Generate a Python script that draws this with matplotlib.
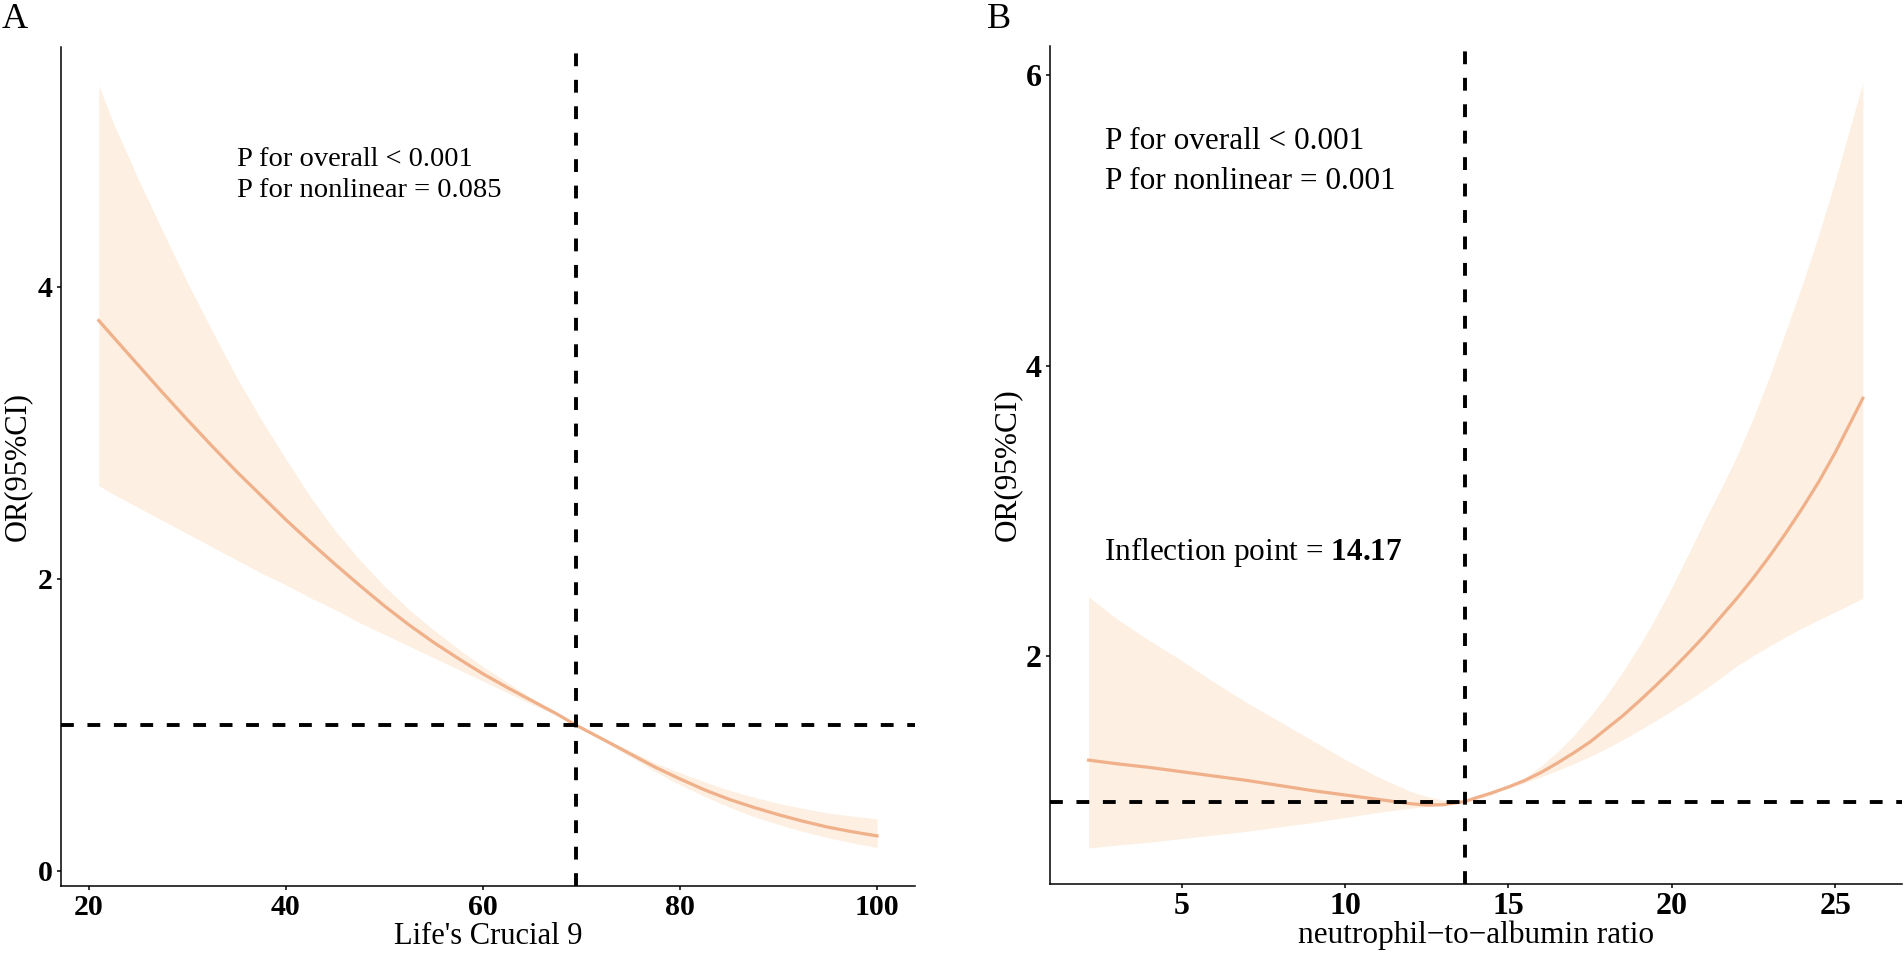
import matplotlib
matplotlib.use('Agg')
import matplotlib.pyplot as plt

plt.rcParams['font.family'] = ['Liberation Serif', 'DejaVu Serif']
plt.rcParams['mathtext.fontset'] = 'custom'
plt.rcParams['mathtext.rm'] = 'Liberation Serif'
plt.rcParams['mathtext.bf'] = 'Liberation Serif:bold'

# Panel A: Life's Crucial 9
lc9_x = [21, 22.5, 25, 27.5, 30, 32.5, 35, 37.5, 40, 42.5, 45, 47.5, 50, 52.5,
         55, 57.5, 60, 62.5, 65, 67.5, 69.4, 72.5, 75, 77.5, 80, 82.5, 85,
         87.5, 90, 92.5, 95, 97.5, 100]
lc9_or = [3.77, 3.655, 3.465, 3.275, 3.09, 2.91, 2.735, 2.57, 2.405, 2.25,
          2.10, 1.955, 1.815, 1.685, 1.565, 1.455, 1.35, 1.255, 1.165, 1.075,
          1.00, 0.89, 0.80, 0.71, 0.63, 0.555, 0.49, 0.435, 0.385, 0.34, 0.30,
          0.268, 0.24]
lc9_upper = [5.38, 5.12, 4.74, 4.38, 4.03, 3.70, 3.38, 3.09, 2.82, 2.56, 2.33,
             2.13, 1.95, 1.79, 1.65, 1.52, 1.40, 1.29, 1.18, 1.08, 1.00, 0.90,
             0.82, 0.74, 0.672, 0.61, 0.552, 0.505, 0.462, 0.428, 0.397, 0.375,
             0.357]
lc9_lower = [2.64, 2.58, 2.49, 2.40, 2.31, 2.22, 2.13, 2.04, 1.96, 1.87, 1.79,
             1.70, 1.62, 1.54, 1.46, 1.38, 1.30, 1.22, 1.14, 1.065, 1.00, 0.88,
             0.78, 0.68, 0.59, 0.51, 0.437, 0.372, 0.318, 0.27, 0.228, 0.192,
             0.161]
lc9_ref = 69.4

# Panel B: neutrophil-to-albumin ratio
nar_x = [2.15, 3, 4, 5, 6, 7, 8, 9, 10, 11, 12, 12.5, 13, 13.67, 14, 14.5, 15,
         15.5, 16, 16.5, 17, 17.5, 18, 18.5, 19, 19.5, 20, 20.5, 21, 21.5, 22,
         22.5, 23, 23.5, 24, 24.5, 25, 25.5, 25.85]
nar_or = [1.285, 1.26, 1.235, 1.205, 1.175, 1.145, 1.11, 1.075, 1.045, 1.015,
          0.985, 0.976, 0.978, 1.0, 1.025, 1.06, 1.10, 1.145, 1.20, 1.265,
          1.335, 1.41, 1.50, 1.59, 1.69, 1.795, 1.905, 2.02, 2.14, 2.27, 2.40,
          2.54, 2.69, 2.85, 3.02, 3.20, 3.40, 3.62, 3.776]
nar_upper = [2.41, 2.26, 2.11, 1.97, 1.82, 1.68, 1.55, 1.42, 1.29, 1.17, 1.07,
             1.035, 1.01, 1.0, 1.013, 1.047, 1.097, 1.162, 1.244, 1.341, 1.455,
             1.585, 1.73, 1.892, 2.069, 2.263, 2.472, 2.698, 2.93, 3.15, 3.38,
             3.64, 3.93, 4.24, 4.56, 4.90, 5.27, 5.67, 5.945]
nar_lower = [0.68, 0.70, 0.72, 0.745, 0.77, 0.795, 0.825, 0.855, 0.89, 0.925,
             0.955, 0.965, 0.972, 1.0, 1.02, 1.055, 1.09, 1.13, 1.17, 1.215,
             1.26, 1.31, 1.365, 1.425, 1.49, 1.555, 1.625, 1.695, 1.77, 1.85,
             1.935, 2.005, 2.07, 2.135, 2.195, 2.25, 2.305, 2.36, 2.40]
nar_ref = 13.67

LINE_COLOR = '#EFB08A'
BAND_COLOR = '#FDEFE1'


def draw_panel(ax, x, y, lo, hi, ref, fs_tick, fs_lab):
    ax.fill_between(x, lo, hi, color=BAND_COLOR, lw=0, zorder=1)
    ax.plot(x, y, color=LINE_COLOR, lw=2.3, zorder=2)
    ax.axhline(1, color='black', lw=2.8, dashes=(3.3, 3.5), zorder=3)
    ax.axvline(ref, color='black', lw=2.8, dashes=(3.3, 3.5), zorder=3)
    for side in ['top', 'right']:
        ax.spines[side].set_visible(False)
    for side in ['left', 'bottom']:
        ax.spines[side].set_linewidth(1.1)
    ax.tick_params(width=1.1, length=3, pad=3)
    for lab in ax.get_xticklabels() + ax.get_yticklabels():
        lab.set_fontweight('bold')
        lab.set_fontsize(fs_tick)
    ax.set_ylabel('OR(95%CI)', fontsize=fs_lab)


fig = plt.figure(figsize=(19.04, 9.58), dpi=100)

ax1 = fig.add_axes([0.0320, 0.0752, 0.4486, 0.8758])
ax1.set_xlim(17.16, 103.86)
ax1.set_ylim(-0.103, 5.644)
ax1.set_xticks([20, 40, 60, 80, 100])
ax1.set_yticks([0, 2, 4])
draw_panel(ax1, lc9_x, lc9_or, lc9_lower, lc9_upper, lc9_ref, 21.5, 22)
ax1.set_xlabel("Life's Crucial 9", fontsize=22)
ax1.xaxis.set_label_coords(0.5, -0.043)
ax1.yaxis.set_label_coords(-0.034, 0.5)
ax1.text(35.0, 4.87, 'P for overall < 0.001', fontsize=20.5, va='center')
ax1.text(35.0, 4.66, 'P for nonlinear = 0.085', fontsize=20.5, va='center')

ax2 = fig.add_axes([0.5515, 0.0772, 0.4473, 0.8748])
ax2.set_xlim(0.97, 27.04)
ax2.set_ylim(0.432, 6.20)
ax2.set_xticks([5, 10, 15, 20, 25])
ax2.set_yticks([2, 4, 6])
draw_panel(ax2, nar_x, nar_or, nar_lower, nar_upper, nar_ref, 23, 22.5)
ax2.set_xlabel('neutrophil\u2212to\u2212albumin ratio', fontsize=22.5)
ax2.xaxis.set_label_coords(0.5, -0.043)
ax2.yaxis.set_label_coords(-0.033, 0.5)
ax2.text(2.64, 5.54, 'P for overall < 0.001', fontsize=22.5, va='center')
ax2.text(2.64, 5.27, 'P for nonlinear = 0.001', fontsize=22.5, va='center')
ax2.text(2.62, 2.72, r'Inflection point = $\mathbf{14.17}$', fontsize=22.5, va='center')

fig.text(0.001, 0.997, 'A', fontsize=26, va='top', ha='left')
fig.text(0.5184, 0.997, 'B', fontsize=26, va='top', ha='left')

fig.savefig('out.png', dpi=100)
